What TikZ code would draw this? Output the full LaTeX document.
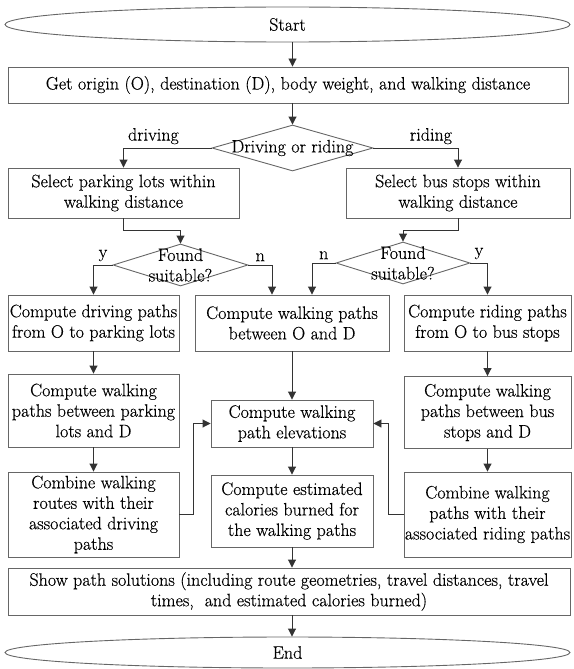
\documentclass[tikz,border=0pt]{standalone}
\usepackage{fontspec}
\setmainfont{Latin Modern Roman}[FakeBold=0.4]
\usetikzlibrary{calc,arrows.meta,shapes.geometric}

\begin{document}
\begin{tikzpicture}[x=1pt,y=-1pt,
  every node/.style={font=\fontsize{18}{20.5}\selectfont, text=black},
  procbox/.style={draw=black!60, line width=0.9pt, rectangle, align=center, inner sep=0pt},
  termbox/.style={draw=black!60, line width=0.9pt, ellipse, inner sep=0pt},
  choice/.style={draw=black!60, line width=0.9pt, diamond, inner sep=0pt},
  flow/.style={draw=black!80, line width=0.9pt, -{Triangle[length=8pt,width=8pt]}}
]
  \useasboundingbox (0,0) rectangle (573,669);

  %--- Start, inputs and mode choice ---
  \node[termbox, minimum width=565, minimum height=35] (start) at (287.5,24.5) {Start};
  \node[procbox, minimum width=560, minimum height=36] (get) at (288,85)
    {Get origin (O), destination (D), body weight, and walking distance};
  \node[choice, minimum width=161, minimum height=46,
        label={center:Driving or riding}] (mode) at (292.5,148) {};

  %--- Candidate selection ---
  \node[procbox, minimum width=231, minimum height=50] (park) at (123.5,193)
    {Select parking lots within\\walking distance};
  \node[procbox, minimum width=224, minimum height=50] (bus) at (458,193)
    {Select bus stops within\\walking distance};
  \node[choice, minimum width=135, minimum height=42,
        label={[align=center]center:{Found\\suitable?}}] (found1) at (180.5,265) {};
  \node[choice, minimum width=134, minimum height=42,
        label={[align=center]center:{Found\\suitable?}}] (found2) at (403,263) {};

  %--- Left column: driving ---
  \node[procbox, minimum width=171, minimum height=56] (drive) at (93.5,323)
    {Compute driving paths\\from O to parking lots};
  \node[procbox, minimum width=171, minimum height=73] (walkpark) at (93.5,410.5)
    {Compute walking\\paths between parking\\lots and D};
  \node[procbox, minimum width=171, minimum height=85] (combdrive) at (93.5,514.5)
    {Combine walking\\routes with their\\associated driving\\paths};

  %--- Middle column: walking ---
  \node[procbox, minimum width=194, minimum height=56] (walkOD) at (292,323)
    {Compute walking paths\\between O and D};
  \node[procbox, minimum width=162, minimum height=47] (elev) at (292,423.5)
    {Compute walking\\path elevations};
  \node[procbox, minimum width=162, minimum height=72] (calor) at (292,511)
    {Compute estimated\\calories burned for\\the walking paths};

  %--- Right column: riding ---
  \node[procbox, minimum width=167, minimum height=56] (ride) at (487.5,323)
    {Compute riding paths\\from O to bus stops};
  \node[procbox, minimum width=167, minimum height=72] (walkbus) at (487.5,412.5)
    {Compute walking\\paths between bus\\stops and D};
  \node[procbox, minimum width=167, minimum height=85] (combride) at (487.5,514.5)
    {Combine walking\\paths with their\\associated riding paths};

  %--- Output and end ---
  \node[procbox, minimum width=562, minimum height=47] (show) at (289,591.5)
    {Show path solutions (including route geometries, travel distances, travel\\times, \ and estimated calories burned)};
  \node[termbox, minimum width=565, minimum height=31] (stop) at (287.5,652.5) {End};

  %--- Connectors ---
  \draw[flow] (start.south -| mode.north) -- (get.north -| mode.north);
  \draw[flow] (get.south -| mode.north) -- (mode.north);
  \draw[flow] (mode.west) -| node[pos=0.33, above] {driving} (park.north);
  \draw[flow] (mode.east) -| node[pos=0.34, above] {riding} (bus.north);
  \draw[flow] (park.south) -- ++(0,12) -| (found1.north);
  \draw[flow] (bus.south) -- ++(0,12) -| (found2.north);
  \draw[flow] (found1.west) -| node[pos=0.25, above] {y} (drive.north);
  \draw[flow] (found1.east) -| node[pos=0.25, above] {n} ([xshift=-20pt]walkOD.north);
  \draw[flow] (found2.west) -| node[pos=0.25, above] {n} ([xshift=20pt]walkOD.north);
  \draw[flow] (found2.east) -| node[pos=0.25, above] {y} (ride.north);
  \draw[flow] (drive) -- (walkpark);
  \draw[flow] (walkpark) -- (combdrive);
  \draw[flow] (ride) -- (walkbus);
  \draw[flow] (walkbus) -- (combride);
  \draw[flow] (walkOD) -- (elev);
  \draw[flow] (elev) -- (calor);
  \draw[flow] (calor.south) -- (show.north -| calor.south);
  \draw[flow] (show.south -| calor.south) -- (stop.north -| calor.south);
  \draw[flow] (combdrive.east) -- ++(14,0) |- (elev.west);
  \draw[flow] (combride.west) -- ++(-15,0) |- (elev.east);

\end{tikzpicture}
\end{document}
